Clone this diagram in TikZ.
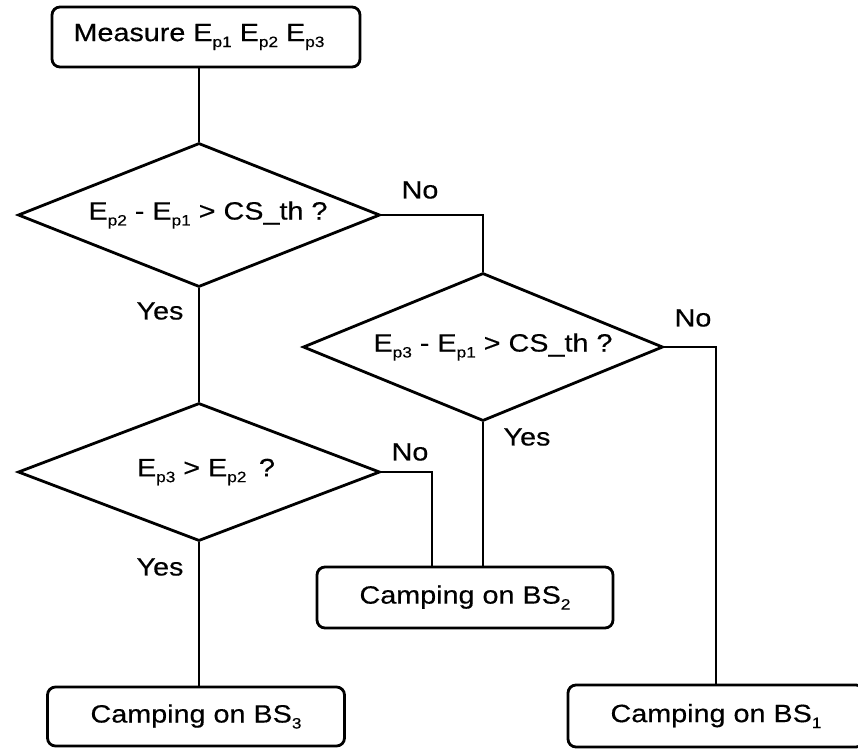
\documentclass[tikz,border=0pt]{standalone}
\usepackage{fontspec}
\setmainfont[FakeStretch=1.15,FakeBold=0.4]{Liberation Sans}
\usetikzlibrary{shapes.geometric}
% small lowered index for the signal levels and station numbers
\newcommand\lowidx[1]{\raisebox{-0.45ex}{\fontsize{15}{15}\selectfont #1}}
\newcommand\Ev[1]{E\lowidx{#1}}

\begin{document}
\begin{tikzpicture}[x=1pt,y=-1pt,line width=2.8pt,
  every node/.style={font=\fontsize{25}{28}\selectfont},
  proc/.style={draw,rounded corners=8pt,inner sep=0pt},
  cond/.style={draw,diamond,aspect=2.5,inner sep=0pt},
  tag/.style={inner sep=0pt}]
\useasboundingbox (0,0) rectangle (858,748);

% process boxes
\node[proc,minimum width=308pt,minimum height=60pt] (meas) at (206,37)
  {Measure \Ev{p1} \Ev{p2} \Ev{p3}\hspace*{14pt}};
\node[proc,minimum width=296pt,minimum height=61pt] (bs2) at (465,597.5)
  {Camping on BS\lowidx{2}};
\node[proc,minimum width=297pt,minimum height=59pt] (bs3) at (196,716.5)
  {Camping on BS\lowidx{3}};
\node[proc,minimum width=296pt,minimum height=62pt] (bs1) at (716,716)
  {Camping on BS\lowidx{1}};

% decisions (text set slightly right of the centre)
\node[cond,minimum width=362pt,minimum height=144pt] (d1) at (199,215)
  {\hspace*{18pt}\Ev{p2} - \Ev{p1} > CS\_th ?};
\node[cond,minimum width=360pt,minimum height=148pt] (d2) at (483,347)
  {\hspace*{20pt}\Ev{p3} - \Ev{p1} > CS\_th ?};
\node[cond,minimum width=362pt,minimum height=138pt] (d3) at (199,472)
  {\hspace*{14pt}\Ev{p3} > \Ev{p2}\enspace ?};

% connectors
\draw (d1.north) -- (d1.north |- meas.south);
\draw (d1.south) -- (d3.north);
\draw (d3.south) -- (d3.south |- bs3.north);
\draw (d1.east) -| (d2.north);
\draw (d2.east) -| (bs1.north);
\draw (d2.south) -- (d2.south |- bs2.north);
\draw (d3.east) -| ([xshift=-33pt]bs2.north);

% branch labels
\node[tag] (n1) at (420,190) {No};
\node[tag] (y1) at (160,311) {Yes};
\node[tag] (n2) at (693,318) {No};
\node[tag] (y2) at (527,437) {Yes};
\node[tag] (n3) at (410,452) {No};
\node[tag] (y3) at (160,567) {Yes};
\end{tikzpicture}
\end{document}
